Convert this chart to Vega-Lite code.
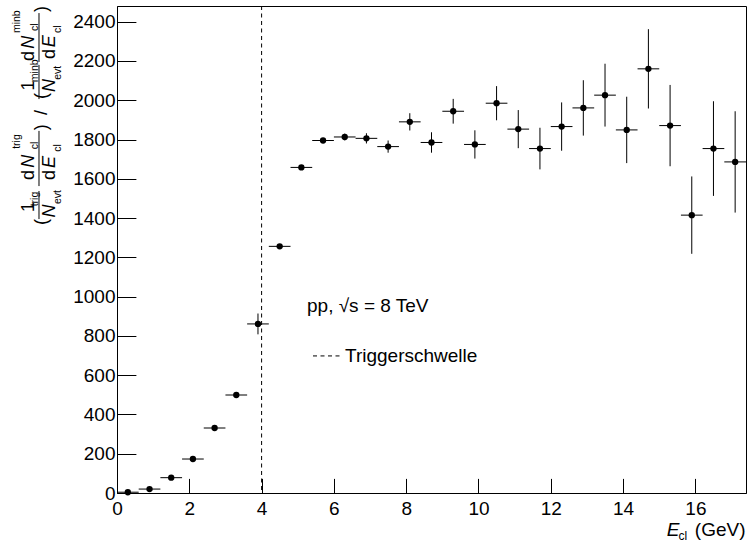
{
  "$schema": "https://vega.github.io/schema/vega-lite/v6.json",
  "width": 629,
  "height": 487,
  "autosize": "none",
  "padding": {"left": 117, "top": 6, "right": 1, "bottom": 57},
  "background": "white",
  "config": {
    "view": {"stroke": "black", "strokeWidth": 1},
    "text": {"font": "Liberation Sans", "color": "black"}
  },
  "data": {
    "values": [
      {"E": 0.3, "lo": 0.0, "hi": 0.6, "y": 4, "ylo": 2, "yhi": 6},
      {"E": 0.9, "lo": 0.6, "hi": 1.2, "y": 20, "ylo": 17, "yhi": 23},
      {"E": 1.5, "lo": 1.2, "hi": 1.8, "y": 78, "ylo": 74, "yhi": 82},
      {"E": 2.1, "lo": 1.8, "hi": 2.4, "y": 173, "ylo": 168, "yhi": 178},
      {"E": 2.7, "lo": 2.4, "hi": 3.0, "y": 331, "ylo": 325, "yhi": 337},
      {"E": 3.3, "lo": 3.0, "hi": 3.6, "y": 499, "ylo": 492, "yhi": 506},
      {"E": 3.9, "lo": 3.6, "hi": 4.2, "y": 861, "ylo": 808, "yhi": 914},
      {"E": 4.5, "lo": 4.2, "hi": 4.8, "y": 1256, "ylo": 1250, "yhi": 1262},
      {"E": 5.1, "lo": 4.8, "hi": 5.4, "y": 1658, "ylo": 1653, "yhi": 1663},
      {"E": 5.7, "lo": 5.4, "hi": 6.0, "y": 1795, "ylo": 1788, "yhi": 1802},
      {"E": 6.3, "lo": 6.0, "hi": 6.6, "y": 1813, "ylo": 1796, "yhi": 1830},
      {"E": 6.9, "lo": 6.6, "hi": 7.2, "y": 1806, "ylo": 1780, "yhi": 1832},
      {"E": 7.5, "lo": 7.2, "hi": 7.8, "y": 1764, "ylo": 1733, "yhi": 1795},
      {"E": 8.1, "lo": 7.8, "hi": 8.4, "y": 1890, "ylo": 1846, "yhi": 1934},
      {"E": 8.7, "lo": 8.4, "hi": 9.0, "y": 1785, "ylo": 1733, "yhi": 1837},
      {"E": 9.3, "lo": 9.0, "hi": 9.6, "y": 1944, "ylo": 1881, "yhi": 2007},
      {"E": 9.9, "lo": 9.6, "hi": 10.2, "y": 1775, "ylo": 1703, "yhi": 1847},
      {"E": 10.5, "lo": 10.2, "hi": 10.8, "y": 1985, "ylo": 1898, "yhi": 2072},
      {"E": 11.1, "lo": 10.8, "hi": 11.4, "y": 1853, "ylo": 1756, "yhi": 1950},
      {"E": 11.7, "lo": 11.4, "hi": 12.0, "y": 1754, "ylo": 1648, "yhi": 1860},
      {"E": 12.3, "lo": 12.0, "hi": 12.6, "y": 1866, "ylo": 1743, "yhi": 1989},
      {"E": 12.9, "lo": 12.6, "hi": 13.2, "y": 1961, "ylo": 1820, "yhi": 2102},
      {"E": 13.5, "lo": 13.2, "hi": 13.8, "y": 2026, "ylo": 1866, "yhi": 2186},
      {"E": 14.1, "lo": 13.8, "hi": 14.4, "y": 1849, "ylo": 1680, "yhi": 2018},
      {"E": 14.7, "lo": 14.4, "hi": 15.0, "y": 2160, "ylo": 1958, "yhi": 2362},
      {"E": 15.3, "lo": 15.0, "hi": 15.6, "y": 1871, "ylo": 1664, "yhi": 2078},
      {"E": 15.9, "lo": 15.6, "hi": 16.2, "y": 1415, "ylo": 1218, "yhi": 1612},
      {"E": 16.5, "lo": 16.2, "hi": 16.8, "y": 1754, "ylo": 1513, "yhi": 1995},
      {"E": 17.1, "lo": 16.8, "hi": 17.4, "y": 1686, "ylo": 1428, "yhi": 1944}
    ]
  },
  "layer": [
    {
      "mark": {"type": "rule", "color": "black", "strokeWidth": 1},
      "encoding": {
        "x": {
          "field": "E", "type": "quantitative", "title": null,
          "scale": {"domain": [0, 17.4], "nice": false, "zero": false},
          "axis": {
            "values": [0,0.5,1,1.5,2,2.5,3,3.5,4,4.5,5,5.5,6,6.5,7,7.5,8,8.5,9,9.5,10,10.5,11,11.5,12,12.5,13,13.5,14,14.5,15,15.5,16,16.5,17],
            "format": "d",
            "domainColor": "black", "domainWidth": 1,
            "tickColor": "black", "tickWidth": 1,
            "tickSize": {"condition": {"test": "datum.value % 2 === 0", "value": -14.6}, "value": -7.3},
            "labelExpr": "datum.value % 2 === 0 ? datum.label : ''",
            "labelFont": "Liberation Sans", "labelFontSize": 19, "labelColor": "black",
            "labelPadding": 20.6, "labelOverlap": false, "labelFlush": false, "labelBound": false,
            "grid": false, "title": null
          }
        },
        "y": {
          "field": "ylo", "type": "quantitative", "title": null,
          "scale": {"domain": [0, 2480], "nice": false, "zero": false},
          "axis": {
            "values": [0,50,100,150,200,250,300,350,400,450,500,550,600,650,700,750,800,850,900,950,1000,1050,1100,1150,1200,1250,1300,1350,1400,1450,1500,1550,1600,1650,1700,1750,1800,1850,1900,1950,2000,2050,2100,2150,2200,2250,2300,2350,2400,2450],
            "format": "d",
            "domainColor": "black", "domainWidth": 1,
            "tickColor": "black", "tickWidth": 1,
            "tickSize": {"condition": {"test": "datum.value % 200 === 0", "value": -18.9}, "value": -9.4},
            "labelExpr": "datum.value % 200 === 0 ? datum.label : ''",
            "labelFont": "Liberation Sans", "labelFontSize": 19, "labelColor": "black",
            "labelPadding": 20.9, "labelOverlap": false, "labelFlush": false, "labelBound": false,
            "grid": false, "title": null
          }
        },
        "y2": {"field": "yhi"}
      }
    },
    {
      "mark": {"type": "rule", "color": "black", "strokeWidth": 1},
      "encoding": {
        "x": {"field": "lo", "type": "quantitative", "title": null},
        "x2": {"field": "hi"},
        "y": {"field": "y", "type": "quantitative", "title": null}
      }
    },
    {
      "mark": {"type": "point", "filled": true, "shape": "circle", "size": 40, "color": "black", "opacity": 1},
      "encoding": {
        "x": {"field": "E", "type": "quantitative", "title": null},
        "y": {"field": "y", "type": "quantitative", "title": null}
      }
    },
    {"data": {"values": [{}]}, "mark": {"type": "rule", "color": "black", "strokeWidth": 1, "strokeDash": [4, 3.5]}, "encoding": {"x": {"datum": 4}}},
    {"data": {"values": [{}]}, "mark": {"type": "rule", "color": "black", "strokeWidth": 1, "strokeDash": [4, 3.5]}, "encoding": {"x": {"datum": 5.422}, "x2": {"datum": 6.169}, "y": {"datum": 698}}},
    {"data": {"values": [{}]}, "mark": {"type": "text", "text": "Triggerschwelle", "fontSize": 19, "align": "left", "baseline": "alphabetic"}, "encoding": {"x": {"datum": 6.307}, "y": {"datum": 665}}},
    {"data": {"values": [{}]}, "mark": {"type": "text", "text": "pp, √s = 8 TeV", "fontSize": 19, "align": "left", "baseline": "alphabetic"}, "encoding": {"x": {"datum": 5.256}, "y": {"datum": 923}}},

    {"data": {"values": [{}]}, "mark": {"type": "text", "text": "E", "fontSize": 19, "fontStyle": "italic", "align": "center", "baseline": "alphabetic"}, "encoding": {"x": {"datum": 15.381}, "y": {"datum": -219}}},
    {"data": {"values": [{}]}, "mark": {"type": "text", "text": "cl", "fontSize": 12, "align": "center", "baseline": "alphabetic"}, "encoding": {"x": {"datum": 15.65}, "y": {"datum": -239}}},
    {"data": {"values": [{}]}, "mark": {"type": "text", "text": "(GeV)", "fontSize": 19, "align": "right", "baseline": "alphabetic"}, "encoding": {"x": {"datum": 17.386}, "y": {"datum": -219}}},

    {"data": {"values": [{}]}, "mark": {"type": "text", "text": "(", "fontSize": 18, "angle": 270, "align": "center", "baseline": "middle"}, "encoding": {"x": {"datum": -2.075}, "y": {"datum": 1380}}},
    {"data": {"values": [{}]}, "mark": {"type": "text", "text": "1", "fontSize": 18, "angle": 270, "align": "center", "baseline": "middle"}, "encoding": {"x": {"datum": -2.434}, "y": {"datum": 1456}}},
    {"data": {"values": [{}]}, "mark": {"type": "rule", "color": "black", "strokeWidth": 1}, "encoding": {"x": {"datum": -2.158}, "y": {"datum": 1395}, "y2": {"datum": 1538}}},
    {"data": {"values": [{}]}, "mark": {"type": "text", "text": "N", "fontSize": 18, "fontStyle": "italic", "angle": 270, "align": "center", "baseline": "middle"}, "encoding": {"x": {"datum": -1.853}, "y": {"datum": 1436}}},
    {"data": {"values": [{}]}, "mark": {"type": "text", "text": "trig", "fontSize": 10.5, "angle": 270, "align": "center", "baseline": "middle"}, "encoding": {"x": {"datum": -2.268}, "y": {"datum": 1497}}},
    {"data": {"values": [{}]}, "mark": {"type": "text", "text": "evt", "fontSize": 10.5, "angle": 270, "align": "center", "baseline": "middle"}, "encoding": {"x": {"datum": -1.632}, "y": {"datum": 1507}}},
    {"data": {"values": [{}]}, "mark": {"type": "text", "text": "d", "fontSize": 18, "angle": 270, "align": "center", "baseline": "middle"}, "encoding": {"x": {"datum": -2.434}, "y": {"datum": 1619}}},
    {"data": {"values": [{}]}, "mark": {"type": "text", "text": "N", "fontSize": 18, "fontStyle": "italic", "angle": 270, "align": "center", "baseline": "middle"}, "encoding": {"x": {"datum": -2.434}, "y": {"datum": 1690}}},
    {"data": {"values": [{}]}, "mark": {"type": "text", "text": "trig", "fontSize": 10.5, "angle": 270, "align": "center", "baseline": "middle"}, "encoding": {"x": {"datum": -2.78}, "y": {"datum": 1790}}},
    {"data": {"values": [{}]}, "mark": {"type": "text", "text": "cl", "fontSize": 10.5, "angle": 270, "align": "center", "baseline": "middle"}, "encoding": {"x": {"datum": -2.268}, "y": {"datum": 1770}}},
    {"data": {"values": [{}]}, "mark": {"type": "rule", "color": "black", "strokeWidth": 1}, "encoding": {"x": {"datum": -2.158}, "y": {"datum": 1563}, "y2": {"datum": 1844}}},
    {"data": {"values": [{}]}, "mark": {"type": "text", "text": "d", "fontSize": 18, "angle": 270, "align": "center", "baseline": "middle"}, "encoding": {"x": {"datum": -1.853}, "y": {"datum": 1619}}},
    {"data": {"values": [{}]}, "mark": {"type": "text", "text": "E", "fontSize": 18, "fontStyle": "italic", "angle": 270, "align": "center", "baseline": "middle"}, "encoding": {"x": {"datum": -1.853}, "y": {"datum": 1686}}},
    {"data": {"values": [{}]}, "mark": {"type": "text", "text": "cl", "fontSize": 10.5, "angle": 270, "align": "center", "baseline": "middle"}, "encoding": {"x": {"datum": -1.632}, "y": {"datum": 1757}}},
    {"data": {"values": [{}]}, "mark": {"type": "text", "text": ")", "fontSize": 18, "angle": 270, "align": "center", "baseline": "middle"}, "encoding": {"x": {"datum": -2.075}, "y": {"datum": 1862}}},
    {"data": {"values": [{}]}, "mark": {"type": "text", "text": "/", "fontSize": 18, "angle": 270, "align": "center", "baseline": "middle"}, "encoding": {"x": {"datum": -2.075}, "y": {"datum": 1938}}},

    {"data": {"values": [{}]}, "mark": {"type": "text", "text": "(", "fontSize": 18, "angle": 270, "align": "center", "baseline": "middle"}, "encoding": {"x": {"datum": -2.075}, "y": {"datum": 2022}}},
    {"data": {"values": [{}]}, "mark": {"type": "text", "text": "1", "fontSize": 18, "angle": 270, "align": "center", "baseline": "middle"}, "encoding": {"x": {"datum": -2.434}, "y": {"datum": 2075}}},
    {"data": {"values": [{}]}, "mark": {"type": "rule", "color": "black", "strokeWidth": 1}, "encoding": {"x": {"datum": -2.158}, "y": {"datum": 2006}, "y2": {"datum": 2180}}},
    {"data": {"values": [{}]}, "mark": {"type": "text", "text": "N", "fontSize": 18, "fontStyle": "italic", "angle": 270, "align": "center", "baseline": "middle"}, "encoding": {"x": {"datum": -1.853}, "y": {"datum": 2075}}},
    {"data": {"values": [{}]}, "mark": {"type": "text", "text": "minb", "fontSize": 10.5, "angle": 270, "align": "center", "baseline": "middle"}, "encoding": {"x": {"datum": -2.268}, "y": {"datum": 2150}}},
    {"data": {"values": [{}]}, "mark": {"type": "text", "text": "evt", "fontSize": 10.5, "angle": 270, "align": "center", "baseline": "middle"}, "encoding": {"x": {"datum": -1.632}, "y": {"datum": 2140}}},
    {"data": {"values": [{}]}, "mark": {"type": "text", "text": "d", "fontSize": 18, "angle": 270, "align": "center", "baseline": "middle"}, "encoding": {"x": {"datum": -2.434}, "y": {"datum": 2225}}},
    {"data": {"values": [{}]}, "mark": {"type": "text", "text": "N", "fontSize": 18, "fontStyle": "italic", "angle": 270, "align": "center", "baseline": "middle"}, "encoding": {"x": {"datum": -2.434}, "y": {"datum": 2295}}},
    {"data": {"values": [{}]}, "mark": {"type": "text", "text": "minb", "fontSize": 10.5, "angle": 270, "align": "center", "baseline": "middle"}, "encoding": {"x": {"datum": -2.78}, "y": {"datum": 2400}}},
    {"data": {"values": [{}]}, "mark": {"type": "text", "text": "cl", "fontSize": 10.5, "angle": 270, "align": "center", "baseline": "middle"}, "encoding": {"x": {"datum": -2.268}, "y": {"datum": 2372}}},
    {"data": {"values": [{}]}, "mark": {"type": "rule", "color": "black", "strokeWidth": 1}, "encoding": {"x": {"datum": -2.158}, "y": {"datum": 2195}, "y2": {"datum": 2444}}},
    {"data": {"values": [{}]}, "mark": {"type": "text", "text": "d", "fontSize": 18, "angle": 270, "align": "center", "baseline": "middle"}, "encoding": {"x": {"datum": -1.853}, "y": {"datum": 2236}}},
    {"data": {"values": [{}]}, "mark": {"type": "text", "text": "E", "fontSize": 18, "fontStyle": "italic", "angle": 270, "align": "center", "baseline": "middle"}, "encoding": {"x": {"datum": -1.853}, "y": {"datum": 2300}}},
    {"data": {"values": [{}]}, "mark": {"type": "text", "text": "cl", "fontSize": 10.5, "angle": 270, "align": "center", "baseline": "middle"}, "encoding": {"x": {"datum": -1.632}, "y": {"datum": 2362}}},
    {"data": {"values": [{}]}, "mark": {"type": "text", "text": ")", "fontSize": 18, "angle": 270, "align": "center", "baseline": "middle"}, "encoding": {"x": {"datum": -2.075}, "y": {"datum": 2465}}}
  ]
}
